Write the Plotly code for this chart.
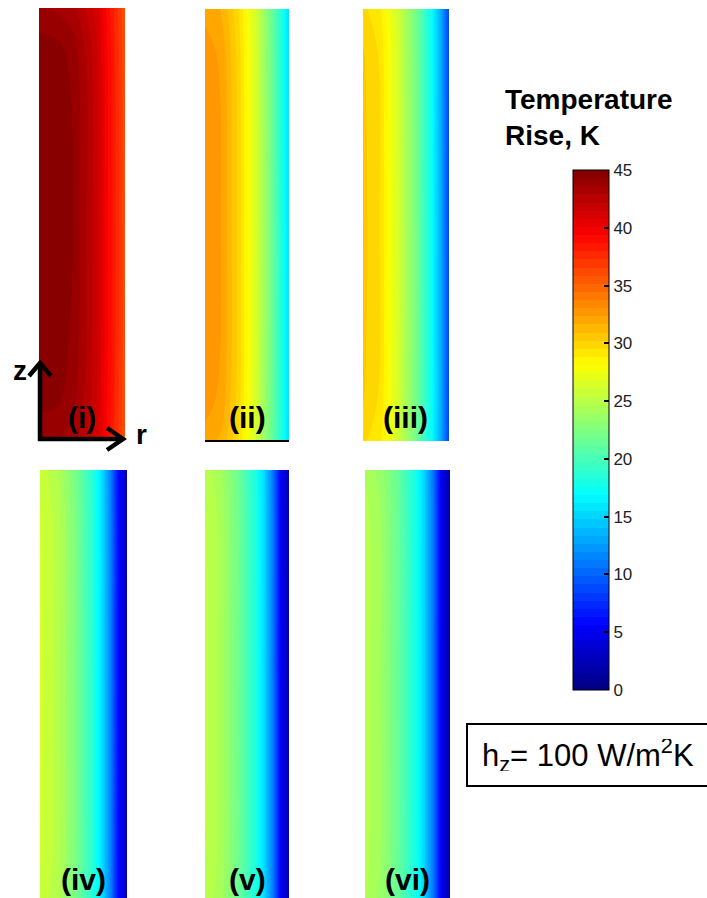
import plotly.graph_objects as go

# ---------------- data ----------------
R_POS = [0.0, 0.2, 0.4, 0.6, 0.7, 0.8, 0.9, 1.0]   # r / R (centre -> surface)
Z_POS = [0.0, 0.1, 0.5, 0.9, 1.0]                  # z / L (bottom -> top)

T_I = [
    [43.8, 43.7, 43.2, 41.8, 40.8, 39.0, 37.5, 35.8],
    [44.6, 44.5, 43.9, 42.3, 41.1, 39.3, 37.7, 36.0],
    [45.0, 44.9, 44.3, 42.5, 41.3, 39.4, 37.8, 36.0],
    [44.8, 44.6, 44.0, 42.4, 41.2, 39.3, 37.7, 36.0],
    [43.6, 43.5, 43.1, 41.8, 40.8, 39.0, 37.5, 35.8],
]
T_II = [
    [32.0, 31.5, 29.5, 26.2, 24.0, 21.3, 18.4, 15.3],
    [32.8, 32.1, 29.9, 26.4, 24.1, 21.4, 18.5, 15.4],
    [33.0, 32.3, 30.0, 26.5, 24.2, 21.5, 18.5, 15.5],
    [32.8, 32.1, 29.9, 26.4, 24.1, 21.4, 18.5, 15.4],
    [32.0, 31.6, 29.6, 26.3, 24.0, 21.3, 18.4, 15.3],
]
T_III = [
    [29.7, 29.0, 26.2, 22.3, 19.9, 17.1, 13.4, 8.4],
    [30.3, 29.4, 26.4, 22.4, 20.0, 17.2, 13.5, 8.5],
    [30.5, 29.5, 26.5, 22.5, 20.0, 17.2, 13.5, 8.5],
    [30.3, 29.4, 26.4, 22.4, 20.0, 17.2, 13.5, 8.5],
    [29.7, 29.0, 26.2, 22.3, 19.9, 17.1, 13.4, 8.4],
]
T_IV = [
    [25.8, 24.8, 22.4, 18.7, 16.0, 12.0, 6.0, 2.5],
    [26.1, 25.0, 22.5, 18.8, 16.0, 12.0, 6.0, 2.5],
    [26.2, 25.0, 22.5, 18.8, 16.0, 12.0, 6.0, 2.5],
    [26.1, 25.0, 22.5, 18.8, 16.0, 12.0, 6.0, 2.5],
    [25.7, 24.7, 22.3, 18.7, 15.9, 11.9, 6.0, 2.5],
]
T_V = [
    [25.2, 24.1, 21.7, 18.1, 15.5, 11.5, 5.5, 2.0],
    [25.4, 24.3, 21.8, 18.2, 15.5, 11.5, 5.5, 2.0],
    [25.5, 24.3, 21.8, 18.2, 15.5, 11.5, 5.5, 2.0],
    [25.4, 24.3, 21.8, 18.2, 15.5, 11.5, 5.5, 2.0],
    [25.0, 24.0, 21.6, 18.1, 15.4, 11.4, 5.5, 2.0],
]
T_VI = [
    [24.7, 23.6, 21.2, 17.7, 15.0, 11.0, 5.0, 1.5],
    [24.9, 23.8, 21.3, 17.8, 15.0, 11.0, 5.0, 1.5],
    [25.0, 23.8, 21.3, 17.8, 15.0, 11.0, 5.0, 1.5],
    [24.9, 23.8, 21.3, 17.8, 15.0, 11.0, 5.0, 1.5],
    [24.5, 23.5, 21.1, 17.7, 14.9, 10.9, 5.0, 1.5],
]
PANELS = [T_I, T_II, T_III, T_IV, T_V, T_VI]
PANEL_LABELS = ["(i)", "(ii)", "(iii)", "(iv)", "(v)", "(vi)"]
CBAR_TICKS = [0, 5, 10, 15, 20, 25, 30, 35, 40, 45]
T_MIN, T_MAX = 0, 45
N_LEVELS = 64

# ---------------- layout helpers ----------------
W, H = 707, 898
def px(x):
    return x / W
def py(y):
    return 1 - y / H

JET = [
    [0.0, "rgb(0,0,128)"],
    [0.125, "rgb(0,0,255)"],
    [0.375, "rgb(0,255,255)"],
    [0.625, "rgb(255,255,0)"],
    [0.875, "rgb(255,0,0)"],
    [1.0, "rgb(128,0,0)"],
]

PANEL_BOX = [  # (left, right, top, bottom) in pixels
    (39, 125, 8, 440),
    (205, 289, 9, 440),
    (363, 449, 9, 441),
    (40, 127, 470, 898),
    (205, 289, 470, 898),
    (365, 450, 470, 898),
]

FONT = "Liberation Sans, Arial, sans-serif"

fig = go.Figure()
layout = dict(
    width=W, height=H,
    margin=dict(l=0, r=0, t=0, b=0),
    paper_bgcolor="white", plot_bgcolor="white",
    showlegend=False,
    font=dict(family=FONT, size=17, color="#222"),
)

annotations = []
for i, (T, lab, box) in enumerate(zip(PANELS, PANEL_LABELS, PANEL_BOX)):
    k = "" if i == 0 else str(i + 1)
    l, r, t, b = box
    cb = None
    if i == 0:
        cb = dict(
            x=px(573), xanchor="left", xpad=0,
            y=py(430), yanchor="middle", ypad=0,
            len=520, lenmode="pixels",
            thickness=36, thicknessmode="pixels",
            outlinecolor="black", outlinewidth=1,
            tickmode="array", tickvals=CBAR_TICKS,
            ticktext=[str(v) for v in CBAR_TICKS],
            ticks="inside", ticklen=5,
            tickcolor="black", tickwidth=1.5,
            tickfont=dict(family=FONT, size=17, color="#222"),
        )
    fig.add_trace(go.Contour(
        x=R_POS, y=Z_POS, z=T,
        colorscale=JET, zmin=T_MIN, zmax=T_MAX, zauto=False,
        autocontour=False,
        contours=dict(start=T_MIN, end=T_MAX, size=(T_MAX - T_MIN) / N_LEVELS,
                      coloring="fill", showlines=False),
        line=dict(width=0, smoothing=1),
        showscale=(i == 0), colorbar=cb,
        xaxis="x" + k, yaxis="y" + k,
        hoverinfo="skip",
    ))
    layout["xaxis" + k] = dict(
        domain=[px(l), px(r)], range=[0, 1], anchor="y" + k,
        showgrid=False, zeroline=False, showticklabels=False, ticks="",
        showline=(i == 1), linecolor="black", linewidth=1.5, mirror=False,
    )
    layout["yaxis" + k] = dict(
        domain=[py(b), py(t)], range=[0, 1], anchor="x" + k,
        showgrid=False, zeroline=False, showticklabels=False, ticks="",
        showline=False,
    )
    cy = 418 if i < 3 else 879
    annotations.append(dict(
        x=px((l + r) / 2), y=py(cy), xref="paper", yref="paper",
        xanchor="center", yanchor="middle", showarrow=False,
        text="<b>%s</b>" % lab,
        font=dict(family=FONT, size=30, color="black"),
    ))

# axis arrows z / r
annotations.append(dict(x=px(20), y=py(370), xref="paper", yref="paper",
                        xanchor="center", yanchor="middle", showarrow=False,
                        text="<b>z</b>", font=dict(family=FONT, size=28, color="black")))
annotations.append(dict(x=px(141), y=py(434), xref="paper", yref="paper",
                        xanchor="center", yanchor="middle", showarrow=False,
                        text="<b>r</b>", font=dict(family=FONT, size=28, color="black")))

# colorbar title
annotations.append(dict(x=px(503), y=py(82), xref="paper", yref="paper",
                        xanchor="left", yanchor="top", showarrow=False, align="left",
                        text="<b>Temperature<br>Rise, K</b>",
                        font=dict(family=FONT, size=28, color="black")))

# boundary condition box
annotations.append(dict(x=px(466), y=py(755), xref="paper", yref="paper",
                        xanchor="left", yanchor="middle", showarrow=False, align="left",
                        width=240, height=32, borderpad=14,
                        bordercolor="black", borderwidth=2, bgcolor="white",
                        text="h<sub>z</sub>= 100 W/m<sup>2</sup>K",
                        font=dict(family=FONT, size=31, color="black")))

def path(pts):
    return "M " + " L ".join("%.5f,%.5f" % (px(a), py(b)) for a, b in pts)

shapes = []
for pts in [
    [(40, 363), (40, 439), (123, 439)],
    [(29, 376), (40, 363), (51, 376)],
    [(107, 428), (123, 439), (107, 450)],
]:
    shapes.append(dict(type="path", xref="paper", yref="paper", path=path(pts),
                       line=dict(color="black", width=4.5), layer="above"))

layout["annotations"] = annotations
layout["shapes"] = shapes
fig.update_layout(**layout)

fig.write_html("out.html")
